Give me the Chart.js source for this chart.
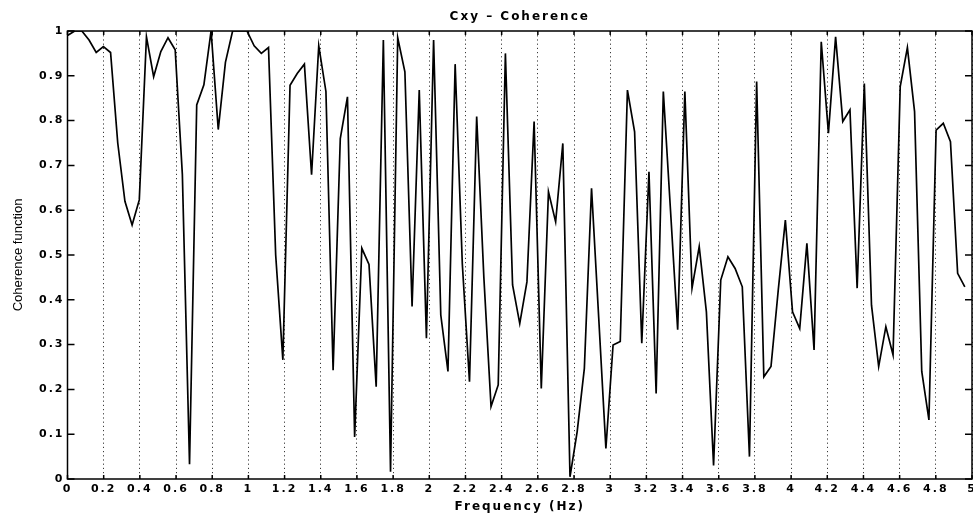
<!DOCTYPE html>
<html>
<head>
<meta charset="utf-8">
<title>Cxy - Coherence</title>
<script src="https://cdn.jsdelivr.net/npm/chart.js@4/dist/chart.umd.min.js"></script>
<style>
  html, body { margin: 0; padding: 0; background: #fff; }
  canvas { display: block; }
</style>
</head>
<body>
<canvas id="cohchart" width="973" height="513"></canvas>
<script>
// coherence estimate, one value per frequency bin
var coherence = [
    0.99, 1.0, 1.0, 0.98, 0.952, 0.965, 0.952, 0.75, 0.62, 0.567,
    0.623, 0.987, 0.898, 0.954, 0.985, 0.958, 0.68, 0.033, 0.835, 0.88,
    1.0, 0.78, 0.93, 1.0, 1.0, 1.0, 0.967, 0.95, 0.963, 0.5,
    0.266, 0.879, 0.905, 0.926, 0.679, 0.967, 0.865, 0.243, 0.76, 0.853,
    0.094, 0.515, 0.479, 0.206, 0.98, 0.016, 0.985, 0.909, 0.385, 0.868,
    0.314, 0.98, 0.366, 0.24, 0.926, 0.48, 0.217, 0.809, 0.45, 0.162,
    0.21, 0.95, 0.433, 0.347, 0.44, 0.798, 0.202, 0.641, 0.574, 0.749,
    0.005, 0.106, 0.247, 0.649, 0.36, 0.068, 0.299, 0.307, 0.868, 0.775,
    0.303, 0.686, 0.191, 0.865, 0.6, 0.333, 0.865, 0.426, 0.519, 0.373,
    0.03, 0.444, 0.496, 0.47, 0.429, 0.05, 0.887, 0.228, 0.251, 0.42,
    0.578, 0.373, 0.336, 0.526, 0.288, 0.976, 0.772, 0.987, 0.798, 0.824,
    0.426, 0.883, 0.388, 0.251, 0.34, 0.277, 0.876, 0.963, 0.82, 0.24,
    0.132, 0.779, 0.794, 0.753, 0.459, 0.429
];
// frequency resolution of the estimate (Hz per bin)
var binWidth = 5 / 126;

var xTicks = [0, 0.2, 0.4, 0.6, 0.8, 1, 1.2, 1.4, 1.6, 1.8, 2, 2.2, 2.4, 2.6, 2.8, 3,
              3.2, 3.4, 3.6, 3.8, 4, 4.2, 4.4, 4.6, 4.8, 5];
var yTicks = [0, 0.1, 0.2, 0.3, 0.4, 0.5, 0.6, 0.7, 0.8, 0.9, 1];

var points = coherence.map(function (v, i) {
    return { x: i * binWidth, y: v };
});

// box round the axes, inward ticks on all four sides, wide lettering like the print
var matlabAxes = {
    id: 'matlabAxes',
    beforeDraw: function (chart) {
        chart.ctx.letterSpacing = '2px';
    },
    beforeDatasetsDraw: function (chart) {
        chart.ctx.letterSpacing = '0px';
    },
    afterDraw: function (chart) {
        var ctx = chart.ctx, a = chart.chartArea;
        var xs = chart.scales.x, ys = chart.scales.y;
        ctx.save();
        ctx.strokeStyle = '#000';
        ctx.lineWidth = 1.5;
        ctx.strokeRect(a.left, a.top, a.right - a.left, a.bottom - a.top);
        ctx.beginPath();
        xs.ticks.forEach(function (t, i) {
            var px = xs.getPixelForTick(i);
            ctx.moveTo(px, a.bottom); ctx.lineTo(px, a.bottom - 4);
            ctx.moveTo(px, a.top); ctx.lineTo(px, a.top + 4);
        });
        ys.ticks.forEach(function (t, i) {
            var py = ys.getPixelForTick(i);
            ctx.moveTo(a.left, py); ctx.lineTo(a.left + 7, py);
            ctx.moveTo(a.right, py); ctx.lineTo(a.right - 7, py);
        });
        ctx.stroke();
        ctx.restore();
    }
};

var chart1 = document.getElementById('cohchart');
var myChart1 = new Chart(chart1, {
    type: 'line',
    data: {
        datasets: [{
            data: points,
            borderColor: '#000',
            borderWidth: 1.7,
            pointRadius: 0,
            tension: 0,
            fill: false
        }]
    },
    options: {
        responsive: false,
        animation: false,
        layout: {
            autoPadding: false,
            padding: { left: 0, right: 1, top: 0, bottom: 0 }
        },
        plugins: {
            legend: { display: false },
            tooltip: { enabled: false },
            title: {
                display: true,
                text: 'Cxy – Coherence',
                fullSize: false,
                color: '#000',
                font: { family: 'DejaVu Sans', size: 12, weight: 'bold', lineHeight: 1.2 },
                padding: { top: 10, bottom: 6.6 }
            }
        },
        scales: {
            x: {
                type: 'linear',
                min: 0,
                max: 5,
                afterBuildTicks: function (s) {
                    s.ticks = xTicks.map(function (v) { return { value: v }; });
                },
                afterFit: function (s) {
                    s.height = 34;
                    // let the last label run off the edge, as in the print
                    s.paddingLeft = 0;
                    s.paddingRight = 0;
                },
                grid: {
                    display: true,
                    drawOnChartArea: true,
                    drawTicks: false,
                    color: '#3a3a3a',
                    lineWidth: 1
                },
                border: { display: false, dash: [1.2, 3] },
                ticks: {
                    autoSkip: false,
                    maxRotation: 0,
                    padding: 4,
                    color: '#000',
                    font: { family: 'DejaVu Sans', size: 11, weight: 'bold' },
                    callback: function (v) { return String(v); }
                },
                title: {
                    display: true,
                    text: 'Frequency (Hz)',
                    color: '#000',
                    font: { family: 'DejaVu Sans', size: 12, weight: 'bold', lineHeight: 1 },
                    padding: { top: 0, bottom: 0 }
                }
            },
            y: {
                min: 0,
                max: 1,
                afterBuildTicks: function (s) {
                    s.ticks = yTicks.map(function (v) { return { value: v }; });
                },
                afterFit: function (s) {
                    s.width = 67.5;
                    s.paddingTop = 0;
                    s.paddingBottom = 0;
                },
                grid: { display: false, drawTicks: false, z: 1 },
                border: { display: false },
                ticks: {
                    padding: 3,
                    color: '#000',
                    font: { family: 'DejaVu Sans', size: 11, weight: 'bold' },
                    callback: function (v) { return String(v); }
                },
                title: {
                    display: true,
                    text: 'Coherence function',
                    color: '#000',
                    font: { family: 'Liberation Sans', size: 13, lineHeight: 1.2 },
                    padding: { top: 10.2, bottom: 0 }
                }
            }
        }
    },
    plugins: [matlabAxes]
});
</script>
</body>
</html>
